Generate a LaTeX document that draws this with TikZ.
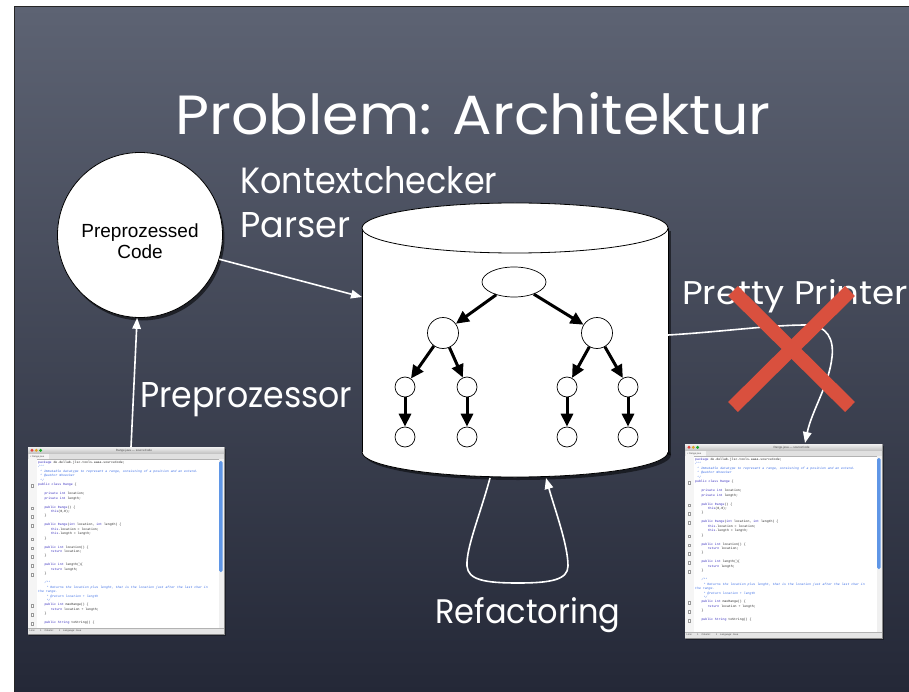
\documentclass[tikz,border=0pt]{standalone}
\usepackage{fontspec}
\usepackage{graphicx}
\setmainfont{Poppins}
\newfontfamily\helv{Liberation Sans}
\newfontfamily\codef{Liberation Mono}
\usetikzlibrary{arrows.meta,shapes.geometric,calc}

\definecolor{bgtop}{RGB}{93,99,115}
\definecolor{bgmid}{RGB}{68,73,89}
\definecolor{bgbot}{RGB}{36,40,55}
\definecolor{xred}{RGB}{217,80,62}
\definecolor{kwc}{RGB}{55,45,190}
\definecolor{cmc}{RGB}{60,110,230}
\definecolor{thumbc}{RGB}{95,150,230}
\definecolor{tlred}{RGB}{224,68,62}
\definecolor{tlyel}{RGB}{222,161,35}
\definecolor{tlgrn}{RGB}{26,171,41}

\newcommand{\kw}[1]{\textcolor{kwc}{#1}}
\newcommand{\cm}[1]{\textcolor{cmc}{\itshape #1}}
\newcommand{\indA}{\hspace*{6.3pt}}
\newcommand{\indB}{\hspace*{12.6pt}}
\newcommand{\codetext}{%
\kw{package} de.dellab.jlsc.tools.aaaa.sourceCode;\\
\cm{/**}\\
\cm{\hspace*{2pt}* Immutable datatype to represent a range, consisting of a position and an extend.}\\
\cm{\hspace*{2pt}* @author mhoecker}\\
\cm{\hspace*{2pt}*/}\\
\kw{public class Range} \{\\
\mbox{}\\
\indA\kw{private int} location;\\
\indA\kw{private int} length;\\
\mbox{}\\
\indA\kw{public Range}() \{\\
\indB\kw{this}(0,0);\\
\indA\}\\
\mbox{}\\
\indA\kw{public Range}(\kw{int} location, \kw{int} length) \{\\
\indB\kw{this}.location = location;\\
\indB\kw{this}.length = length;\\
\indA\}\\
\mbox{}\\
\indA\kw{public int} location() \{\\
\indB\kw{return} location;\\
\indA\}\\
\mbox{}\\
\indA\kw{public int} length()\{\\
\indB\kw{return} length;\\
\indA\}\\
\mbox{}\\
\indA\cm{/**}\\
\indA\cm{\hspace*{2pt}* Returns the location plus lenght, that is the location just after the last char in}\\
\cm{the range.}\\
\indA\cm{\hspace*{2pt}* @return location + length}\\
\indA\cm{\hspace*{2pt}*/}\\
\indA\kw{public int} maxRange() \{\\
\indB\kw{return} location + length;\\
\indA\}\\
\mbox{}\\
\indA\kw{public String} toString() \{}

% #1 name, #2 x, #3 y, #4 width, #5 height
\newcommand{\codewin}[5]{%
\begin{scope}[shift={(#2,#3)}]
  \fill[black,opacity=.35] (1,1.5) rectangle (#4+1.5,#5+2);
  \node[draw=black!45, line width=.4pt, fill=white, anchor=north west, inner sep=0,
        minimum width=#4pt, minimum height=#5pt] (#1) at (0,0) {};
  \shade[top color=black!6, bottom color=black!24] (0,0) rectangle (#4,6.5);
  \fill[tlred] (4,3.3) circle (1.6);
  \fill[tlyel] (8.3,3.3) circle (1.6);
  \fill[tlgrn] (12.6,3.3) circle (1.6);
  \node[font=\helv\fontsize{3}{3}\selectfont, text=black!70, inner sep=0] (#1-title) at (#4/2+8,3.3) {Range.java — sourceCode};
  \fill[black!12] (0,6.5) rectangle (#4,12);
  \draw[black!30, line width=.2pt] (0,12) -- (#4,12);
  \fill[black!4] (1,7.2) rectangle (21,11.6);
  \node[font=\helv\fontsize{2.4}{2.4}\selectfont, text=black!70, inner sep=0, anchor=west] (#1-tab) at (1.8,9.4) {× Range.java};
  \fill[black!4] (0,12.2) rectangle (8.5,#5-6);
  \foreach \i in {6,11,13,15,18,20,22,24,26,33,35,37}
    \draw[black!40, line width=.2pt, fill=white] (3.1,16.3+4.45*\i-4.45-1.2) rectangle +(2.4,2.4);
  \node[anchor=north west, inner sep=0, align=left, text=black!85,
        font=\codef\fontsize{3.2}{4.45}\selectfont] (#1-code) at (10,14.0) {\codetext};
  \fill[black!6] (#4-5.5,12.2) rectangle (#4-0.4,#5-6);
  \fill[thumbc, rounded corners=1.4pt] (#4-4.8,14) rectangle (#4-1.4,125);
  \fill[black!10] (0,#5-6) rectangle (#4,#5);
  \draw[black!30, line width=.2pt] (0,#5-6) -- (#4,#5-6);
  \node[font=\helv\fontsize{2.5}{2.5}\selectfont, text=black!70, inner sep=0, anchor=west] (#1-status) at (1.5,#5-3) {Line:\hspace{5pt}1\hspace{3pt}Column:\hspace{5pt}1\hspace{3pt}Language: Java};
\end{scope}}

\tikzset{
  wline/.style={white, line width=1.6pt},
  warrow/.style={wline, -{Triangle[length=11pt,width=8.5pt]}},
  tarrow/.style={black, line width=3pt, -{Triangle[length=13pt,width=12pt]}},
  tnode/.style={circle, draw=black, line width=.7pt, fill=white, inner sep=0},
  lbl/.style={text=white, anchor=base west, inner sep=0},
}

\begin{document}
\begin{tikzpicture}[x=1pt,y=-1pt]
\useasboundingbox (0,0) rectangle (909,692);
% background
\fill[white] (0,0) rectangle (909,692);
\shade[top color=bgtop, middle color=bgmid, bottom color=bgbot] (14,7) rectangle (909,692);
\draw[black!85, line width=1pt] (14,692) -- (14,7) -- (909,7);

% title
\node[lbl] (title) at (175,135) {\resizebox{595pt}{42pt}{Problem: Architektur}};

% cylinder shadow
\fill[black, opacity=.5] (365,231) rectangle (671,455);
\fill[black, opacity=.5] (518,455) ellipse [x radius=153, y radius=25];
% cylinder body
\fill[white] (362,228) rectangle (668,452);
\fill[white] (515,452) ellipse [x radius=153, y radius=25];
\begin{scope}
  \clip (350,452) rectangle (680,490);
  \draw[black, line width=.8pt] (515,452) ellipse [x radius=153, y radius=25];
\end{scope}
\draw[black, line width=.8pt] (362,228) -- (362,452);
\draw[black, line width=.8pt] (668,228) -- (668,452);
\draw[black, line width=.8pt, fill=white] (515,228) ellipse [x radius=153, y radius=25];
\node[inner sep=0, minimum width=306pt, minimum height=224pt] (db) at (515,340) {};
\coordinate (dbin) at (362,297);
\coordinate (dbout) at (668,335);
\coordinate (rfout) at (490,478);
\coordinate (rfin) at (546,478);

% tree
\node[ellipse, draw=black, line width=.7pt, fill=white, minimum width=64pt, minimum height=30pt, inner sep=0] (r) at (514,282) {};
\node[tnode, minimum size=31pt] (l1a) at (443,333) {};
\node[tnode, minimum size=31pt] (l1b) at (597,333) {};
\foreach \n/\x in {a/405,b/467,c/567,d/628} {
  \node[tnode, minimum size=20pt] (l2\n) at (\x,387) {};
  \node[tnode, minimum size=20pt] (l3\n) at (\x,437) {};
  \draw[tarrow] (l2\n) -- (l3\n);
}
\draw[tarrow] (r) -- (l1a);
\draw[tarrow] (r) -- (l1b);
\draw[tarrow] (l1a) -- (l2a);
\draw[tarrow] (l1a) -- (l2b);
\draw[tarrow] (l1b) -- (l2c);
\draw[tarrow] (l1b) -- (l2d);

% preprocessed code circle
\fill[black, opacity=.55] (142,238) circle (82.5);
\node[circle, draw=black, line width=.8pt, fill=white, minimum size=165pt, inner sep=0] (pc) at (140,235) {};
\node[font=\helv\fontsize{19}{21.5}\selectfont, align=center, inner sep=0] (pctext) at (140,241) {Preprozessed\\Code};

% code windows
\codewin{lsw}{28}{447}{196}{187}
\codewin{rsw}{685}{444}{197}{194}
\coordinate (lsout) at (131,447);
\coordinate (rsin) at (805,443);

% labels
\node[lbl] (kc) at (240,194) {\resizebox{257pt}{27pt}{Kontextchecker}};
\node[lbl] (ps) at (240,238) {\resizebox{110pt}{25pt}{Parser}};
\node[lbl] (pp) at (140,407) {\resizebox{212pt}{25pt}{Preprozessor}};
\node[lbl] (pr) at (682,305) {\resizebox{226pt}{25pt}{Pretty Printer}};
\node[lbl] (rf) at (435,623) {\resizebox{185pt}{26pt}{Refactoring}};

% connectors
\draw[warrow] (pc.-17) -- (dbin);
\draw[warrow] (lsout) -- (pc.-92);
\draw[warrow] (dbout) .. controls (720,332) and (770,325) .. (806,325)
   .. controls (828,325) and (834,340) .. (832,357)
   .. controls (829,385) and (812,410) .. (rsin);
\draw[warrow] (rfout) .. controls (480,515) and (466,548) .. (467,566)
   .. controls (468,580) and (485,583) .. (518,583)
   .. controls (550,583) and (568,580) .. (568,566)
   .. controls (568,545) and (555,510) .. (rfin);

% red cross
\draw[xred, line width=14pt] (733,291) -- (850,407);
\draw[xred, line width=14pt] (850,291) -- (733,407);
\end{tikzpicture}
\end{document}
